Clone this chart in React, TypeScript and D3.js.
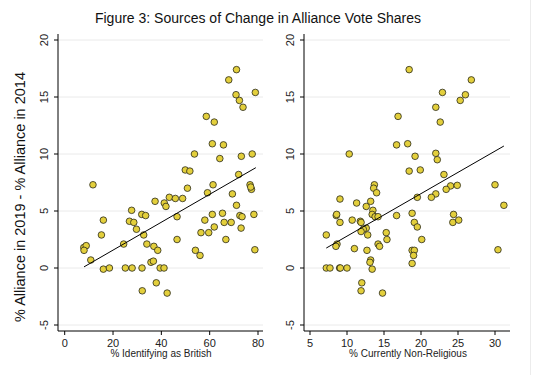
import React from "react";
import * as d3 from "d3";

const title = "Figure 3: Sources of Change in Alliance Vote Shares";
const yTitle = "% Alliance in 2019 - % Alliance in 2014";
const yTicks = [-5, 0, 5, 10, 15, 20];

const leftTicks = [0, 20, 40, 60, 80];
const leftTitle = "% Identifying as British";
const leftPoints: [number, number][] = [
  [11.7, 7.3], [71.1, 17.4], [67.9, 16.5], [70.9, 15.2], [78.9, 15.4], [72.3, 14.7], [73.8, 14.1],
  [58.6, 13.3], [61.9, 12.8], [61.1, 10.9], [65.7, 10.8], [53.7, 10.0], [64.2, 9.6], [73.1, 9.8],
  [77.6, 10.0], [49.9, 8.6], [51.8, 8.5], [72.0, 8.2], [50.8, 7.0], [61.4, 7.3], [76.7, 7.3],
  [77.3, 6.9], [77.0, 7.1], [59.1, 6.6], [69.4, 6.5], [43.3, 6.2], [45.8, 6.1], [48.8, 6.1],
  [37.4, 5.85], [41.2, 5.7], [41.9, 5.4], [71.1, 5.5], [27.7, 5.06], [31.9, 4.7], [33.5, 4.6],
  [46.5, 4.5], [65.3, 4.8], [61.1, 4.7], [72.5, 4.6], [73.4, 4.5], [78.3, 4.7], [16.0, 4.2],
  [26.8, 4.1], [28.6, 4.0], [58.0, 4.2], [61.9, 3.6], [66.0, 4.0], [68.9, 4.0], [73.0, 3.5],
  [29.7, 3.4], [15.2, 2.9], [32.7, 2.9], [56.4, 3.1], [59.6, 3.1], [46.5, 2.5], [66.7, 2.5],
  [24.4, 2.1], [34.0, 2.1], [36.9, 1.9], [38.5, 1.55], [54.1, 1.55], [56.0, 1.1], [78.7, 1.6],
  [7.9, 1.8], [8.9, 1.96], [8.0, 1.55], [10.8, 0.7], [16.0, -0.1], [18.5, 0], [25.1, 0],
  [27.9, 0], [32.0, 0], [35.7, 0.5], [36.7, 0.6], [39.5, 0], [41.1, 0], [37.9, -1.3],
  [32.1, -2.0], [42.4, -2.2],
];
const leftFit: [number, number][] = [[8.0, 0.1], [79.1, 8.8]];

const rightTicks = [5, 10, 15, 20, 25, 30];
const rightTitle = "% Currently Non-Religious";
const rightPoints: [number, number][] = [
  [10.3, 10.0], [18.4, 17.4], [26.8, 16.5], [22.9, 15.4], [26.0, 15.2], [25.3, 14.7], [22.0, 14.1],
  [16.9, 13.3], [22.6, 12.8], [16.7, 10.8], [18.2, 10.9], [22.0, 10.06], [22.2, 9.5], [19.2, 9.8],
  [18.4, 8.5], [19.9, 8.6], [23.1, 8.2], [13.7, 7.3], [13.6, 7.0], [14.0, 6.6], [24.0, 7.2],
  [24.9, 7.25], [23.4, 6.9], [30.0, 7.3], [9.05, 6.05], [22.0, 6.5], [21.4, 6.2], [19.5, 6.2],
  [11.3, 5.7], [12.6, 5.4], [13.2, 5.85], [13.5, 5.06], [31.2, 5.5], [8.55, 4.6], [8.6, 4.7],
  [13.4, 4.7], [13.8, 4.5], [14.2, 4.5], [16.7, 4.6], [18.8, 4.8], [24.4, 4.7], [9.05, 4.0],
  [10.7, 4.2], [11.8, 4.1], [11.9, 4.0], [19.1, 4.0], [19.5, 3.6], [24.3, 4.0], [25.1, 4.2],
  [12.6, 3.5], [12.2, 3.4], [11.9, 3.2], [7.2, 2.9], [12.8, 2.9], [15.3, 3.1], [15.4, 2.5],
  [20.1, 2.5], [8.65, 2.1], [8.5, 1.9], [14.2, 2.1], [14.4, 1.9], [11.0, 1.7], [12.7, 1.55],
  [18.8, 1.55], [19.1, 1.55], [19.0, 1.1], [30.4, 1.6], [18.8, 0.4], [13.2, 0.7], [13.1, 0.5],
  [7.2, 0], [7.7, 0], [9.0, 0], [9.1, 0], [10.0, 0], [13.4, -0.1], [12.0, -1.3], [11.9, -2.0],
  [14.8, -2.2],
];
const rightFit: [number, number][] = [[7.2, 1.75], [31.2, 10.7]];

const FONT = "'Liberation Sans', Arial, sans-serif";
const FILL = "#e3cf3c";

type PanelProps = {
  x0: number; x1: number;
  xDomain: [number, number]; xRange: [number, number];
  ticks: number[]; xLabel: string; xLabelX: number;
  points: [number, number][]; fit: [number, number][];
};

const yScale = d3.scaleLinear().domain([-5, 20]).range([325, 40]);
const plotTop = 34;
const plotBottom = 331;

function Panel({ x0, x1, xDomain, xRange, ticks, xLabel, xLabelX, points, fit }: PanelProps) {
  const x = d3.scaleLinear().domain(xDomain).range(xRange);
  const line = d3.line<[number, number]>().x(d => x(d[0])).y(d => yScale(d[1]));
  return (
    <g>
      {yTicks.map(t => (
        <line key={"g" + t} x1={x0} x2={x1} y1={yScale(t)} y2={yScale(t)} stroke="#eaeaea" strokeWidth={1} />
      ))}
      <line x1={x0} x2={x0} y1={plotTop} y2={plotBottom} stroke="#000" strokeWidth={1} />
      <line x1={x0} x2={x1} y1={plotBottom} y2={plotBottom} stroke="#000" strokeWidth={1} />
      {yTicks.map(t => (
        <g key={"y" + t}>
          <line x1={x0 - 4} x2={x0} y1={yScale(t)} y2={yScale(t)} stroke="#000" />
          <text
            transform={`translate(${x0 - 10},${yScale(t)}) rotate(-90)`}
            textAnchor="middle"
            fontFamily={FONT}
            fontSize={11}
            fill="#222"
          >{t}</text>
        </g>
      ))}
      {ticks.map(t => (
        <g key={"x" + t}>
          <line x1={x(t)} x2={x(t)} y1={plotBottom} y2={plotBottom + 4} stroke="#000" />
          <text x={x(t)} y={347} textAnchor="middle" fontFamily={FONT} fontSize={11} fill="#222">{t}</text>
        </g>
      ))}
      <text x={xLabelX} y={357} textAnchor="middle" fontFamily={FONT} fontSize={10} fill="#222">{xLabel}</text>
      {points.map((p, i) => (
        <circle key={i} cx={x(p[0])} cy={yScale(p[1])} r={3.3} fill={FILL} stroke="#2a2a1a" strokeWidth={0.8} />
      ))}
      <path d={line(fit) || ""} stroke="#000" strokeWidth={1} fill="none" />
    </g>
  );
}

export default function App() {
  return (
    <svg width={553} height={375} style={{ position: "absolute", left: 0, top: 0, background: "#fff" }}>
      <rect x={0} y={0} width={553} height={375} fill="#fff" />
      <line x1={530.5} x2={530.5} y1={0} y2={375} stroke="#ececec" />
      <text x={258} y={23} textAnchor="middle" fontFamily={FONT} fontSize={14} fill="#111">{title}</text>
      <text transform="translate(25,197) rotate(-90)" textAnchor="middle" fontFamily={FONT} fontSize={14.5} fill="#111">{yTitle}</text>
      <Panel x0={58} x1={263} xDomain={[0, 80]} xRange={[64.7, 258]} ticks={leftTicks}
        xLabel={leftTitle} xLabelX={161} points={leftPoints} fit={leftFit} />
      <Panel x0={304} x1={510} xDomain={[5, 30]} xRange={[310, 495]} ticks={rightTicks}
        xLabel={rightTitle} xLabelX={408} points={rightPoints} fit={rightFit} />
    </svg>
  );
}
